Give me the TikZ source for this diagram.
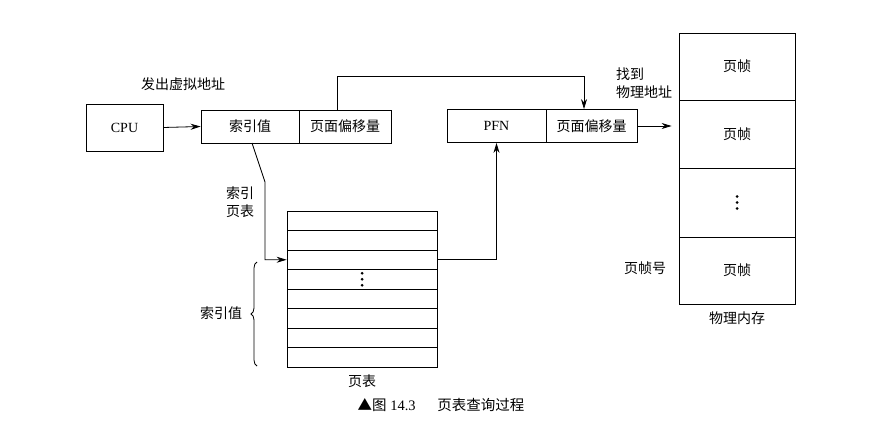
\documentclass[tikz,border=0pt]{standalone}
\usepackage{fontspec}
\setmainfont{Liberation Serif}
\newfontfamily\cjk{Noto Sans CJK SC}
\usetikzlibrary{arrows.meta,decorations.pathreplacing,calc}
\tikzset{
  box/.style={draw, line width=0.8pt, minimum height=33pt, inner sep=0pt, font=\fontsize{14}{16}\selectfont},
  row/.style={draw, line width=0.8pt, minimum width=150pt, minimum height=19.5pt, inner sep=0pt},
  frame/.style={draw, line width=0.8pt, minimum width=116pt, inner sep=0pt, font=\fontsize{14}{16}\selectfont\cjk},
  lbl/.style={font=\fontsize{14}{16}\selectfont\cjk, inner sep=0pt},
  conn/.style={line width=0.8pt},
  arr/.style={line width=0.8pt, -{Stealth[length=10pt,width=6pt]}},
  dotmark/.style={fill=black, circle, inner sep=0pt, minimum size=3pt},
}
\begin{document}
\begin{tikzpicture}[x=1pt,y=-1pt]
\useasboundingbox (0,0) rectangle (874,422);
% virtual address
\node[box, minimum width=77pt, minimum height=47pt] (cpu) at (124.5,127.5) {CPU};
\node[box, minimum width=98pt, font=\fontsize{14}{16}\selectfont\cjk] (idx) at (250,126.5) {索引值};
\node[box, minimum width=92pt, font=\fontsize{14}{16}\selectfont\cjk] (off) at (345,126.5) {页面偏移量};
\node[lbl] (va) at (183,84) {发出虚拟地址};
% physical address
\node[box, minimum width=99pt] (pfn) at (496.5,126) {PFN};
\node[box, minimum width=91pt, font=\fontsize{14}{16}\selectfont\cjk] (poff) at (591.5,126) {页面偏移量};
\node[lbl, align=left, anchor=west] (fd) at (616,83) {找到\\[2pt]物理地址};
% page table
\foreach \i in {1,...,8} {
  \node[row] (r\i) at (362,{211+19.5*(\i-0.5)}) {};
}
\foreach \d in {-6,0,6} { \node[dotmark] at ($(r4.center)+(0,\d)$) {}; }
\node[lbl] (ptl) at (362,381) {页表};
\node[lbl, align=center] (ipt) at (240,202) {索引\\[2pt]页表};
\node[lbl] (ival) at (221,313) {索引值};
\draw[conn, decorate, decoration={brace, amplitude=6pt}] (257,366) -- (257,262);
% physical memory
\node[frame, minimum height=67pt] (f1) at (737,66.5) {页帧};
\node[frame, minimum height=68pt] (f2) at (737,134) {页帧};
\node[frame, minimum height=69pt] (f3) at (737,202.5) {};
\node[frame, minimum height=67pt] (f4) at (737,270.5) {页帧};
\foreach \d in {-6,0,6} { \node[dotmark] at ($(f3.center)+(0,\d)$) {}; }
\node[lbl] (fno) at (645,268) {页帧号};
\node[lbl] (pm) at (737,318) {物理内存};
% connectors
\draw[arr] (cpu.east) -- (idx.west);
\coordinate (a1) at (337,76);
\coordinate (a2) at (584,76);
\draw[arr] (a1 |- off.north) -- (a1) -- (a2) -- (a2 |- poff.north);
\coordinate (b0) at (252,143);
\coordinate (b1) at (265,182);
\draw[arr] (b0) -- (b1) -- (b1 |- r3.west) -- (r3.west);
\draw[arr] (r3.east) -| (pfn.south);
\draw[arr, shorten >=7pt] (poff.east) -- (poff.east -| f2.west);
% caption
\node[inner sep=0pt, font=\fontsize{14.5}{16}\selectfont] (cap) at (441,405) {{\cjk ▲图} 14.3\hspace{1.5em}{\cjk 页表查询过程}};
\end{tikzpicture}
\end{document}
